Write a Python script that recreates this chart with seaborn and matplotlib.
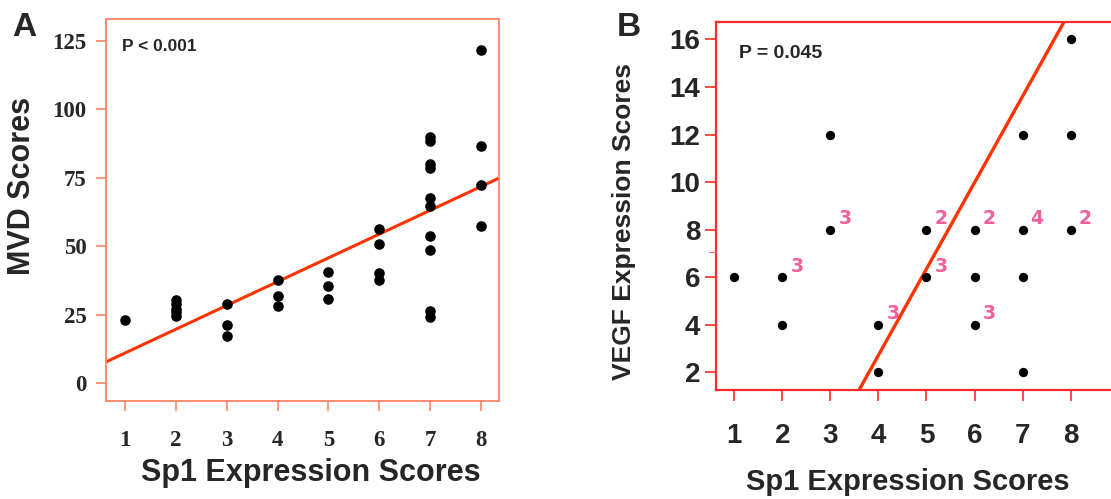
import numpy as np
import pandas as pd
import matplotlib
matplotlib.use('Agg')
import matplotlib.pyplot as plt
import seaborn as sns

# Panel A: Sp1 vs MVD
sp1_a = [1,
         2, 2, 2, 2, 2,
         3, 3, 3,
         4, 4, 4,
         5, 5, 5,
         6, 6, 6, 6,
         7, 7, 7, 7, 7, 7, 7, 7, 7, 7,
         8, 8, 8, 8]
mvd = [23.1,
       30.3, 28.8, 27.2, 25.8, 24.3,
       29.0, 21.0, 17.3,
       37.8, 31.7, 28.3,
       40.6, 35.6, 30.5,
       56.2, 50.8, 40.2, 37.8,
       90.0, 88.6, 80.0, 78.6, 67.5, 64.8, 53.6, 48.7, 26.2, 24.0,
       121.5, 86.5, 72.2, 57.3]
fit_a = (2.2, 8.7)  # intercept, slope

# Panel B: Sp1 vs VEGF
sp1_b = [1, 2, 2, 3, 3, 4, 4, 5, 5, 6, 6, 6, 7, 7, 7, 7, 8, 8, 8]
vegf = [6, 6, 4, 12, 8, 4, 2, 8, 6, 8, 6, 4, 12, 8, 6, 2, 16, 12, 8]
# number of overlapping cases at a point
count_x = [2, 3, 4, 5, 5, 6, 6, 7, 8]
count_y = [6, 8, 4, 8, 6, 8, 4, 8, 8]
count_n = ['3', '3', '3', '2', '3', '2', '3', '4', '2']
fit_b = (-11.8, 3.63)

xticks = [1, 2, 3, 4, 5, 6, 7, 8]
yticks_a = [0, 25, 50, 75, 100, 125]
yticks_b = [2, 4, 6, 8, 10, 12, 14, 16]

df_a = pd.DataFrame({'sp1': sp1_a, 'mvd': mvd})
df_b = pd.DataFrame({'sp1': sp1_b, 'vegf': vegf})

sns.set_style('white')
plt.rcParams['font.family'] = ['Liberation Sans', 'DejaVu Sans']

fig = plt.figure(figsize=(11.11, 4.99), dpi=100)
ax1 = fig.add_axes([0.0954, 0.1964, 0.3537, 0.7655])
ax2 = fig.add_axes([0.6442, 0.2184, 0.3580, 0.7375])

line_red = '#ff3300'

# ---- A ----
box_a = '#ff8466'
sns.scatterplot(data=df_a, x='sp1', y='mvd', ax=ax1, color='black', s=58,
                edgecolor='black', linewidth=0, zorder=3)
ax1.set_xlim(0.63, 8.35)
ax1.set_ylim(-6.6, 133)
xs = np.array(ax1.get_xlim())
ax1.plot(xs, fit_a[0] + fit_a[1] * xs, color=line_red, lw=2.2, zorder=2)
for s in ax1.spines.values():
    s.set_color(box_a)
    s.set_linewidth(1.3)
ax1.set_xticks(xticks)
ax1.set_yticks(yticks_a)
ax1.tick_params(axis='both', direction='out', length=7, width=1.2, color=box_a,
                left=True, bottom=True)
ax1.tick_params(axis='x', pad=14)
ax1.tick_params(axis='y', pad=7)
for lab in ax1.get_xticklabels() + ax1.get_yticklabels():
    lab.set_family('Liberation Serif')
    lab.set_fontweight('bold')
    lab.set_fontsize(16.5)
ax1.set_xlabel('Sp1 Expression Scores', fontsize=22, fontweight='bold', va='center')
ax1.xaxis.set_label_coords(0.522, -0.188)
ax1.set_ylabel('MVD Scores', fontsize=22, fontweight='bold', va='center')
ax1.yaxis.set_label_coords(-0.214, 0.563)
ax1.text(0.041, 0.948, 'P < 0.001', transform=ax1.transAxes, fontsize=12.5,
         fontweight='bold', va='top', ha='left')
fig.text(0.011, 0.975, 'A', fontsize=24, fontweight='bold', va='top', ha='left')

# ---- B ----
box_b = '#ff2a2a'
sns.scatterplot(data=df_b, x='sp1', y='vegf', ax=ax2, color='black', s=45,
                edgecolor='black', linewidth=0, zorder=3)
ax2.set_xlim(0.615, 8.89)
ax2.set_ylim(1.26, 16.73)
xs = np.array(ax2.get_xlim())
ax2.plot(xs, fit_b[0] + fit_b[1] * xs, color=line_red, lw=2.4, zorder=2)
for s in ax2.spines.values():
    s.set_color(box_b)
    s.set_linewidth(1.6)
ax2.spines['right'].set_visible(False)
ax2.set_xticks(xticks)
ax2.set_yticks(yticks_b)
ax2.tick_params(axis='both', direction='out', length=8, width=1.2, color=box_b,
                left=True, bottom=True, labelsize=20)
ax2.tick_params(axis='x', pad=16)
ax2.tick_params(axis='y', pad=3)
for lab in ax2.get_xticklabels() + ax2.get_yticklabels():
    lab.set_fontweight('bold')
ax2.set_xlabel('Sp1 Expression Scores', fontsize=21, fontweight='bold', va='center')
ax2.xaxis.set_label_coords(0.484, -0.25)
ax2.set_ylabel('VEGF Expression Scores', fontsize=19, fontweight='bold', va='center')
ax2.yaxis.set_label_coords(-0.231, 0.459)
ax2.text(0.059, 0.9375, 'P = 0.045', transform=ax2.transAxes, fontsize=14,
         fontweight='bold', va='top', ha='left')
for cx, cy, n in zip(count_x, count_y, count_n):
    ax2.annotate(n, (cx, cy), xytext=(10.5, 8), textcoords='offset points',
                 ha='center', va='center', fontsize=13.5, color='#f2609a',
                 family='DejaVu Sans', fontweight='bold', annotation_clip=False)
fig.text(0.642, 0.495, '–', fontsize=10, color='#ff6070', ha='center', va='center')
fig.text(0.555, 0.975, 'B', fontsize=24, fontweight='bold', va='top', ha='left')

fig.savefig('out.png', dpi=100)
